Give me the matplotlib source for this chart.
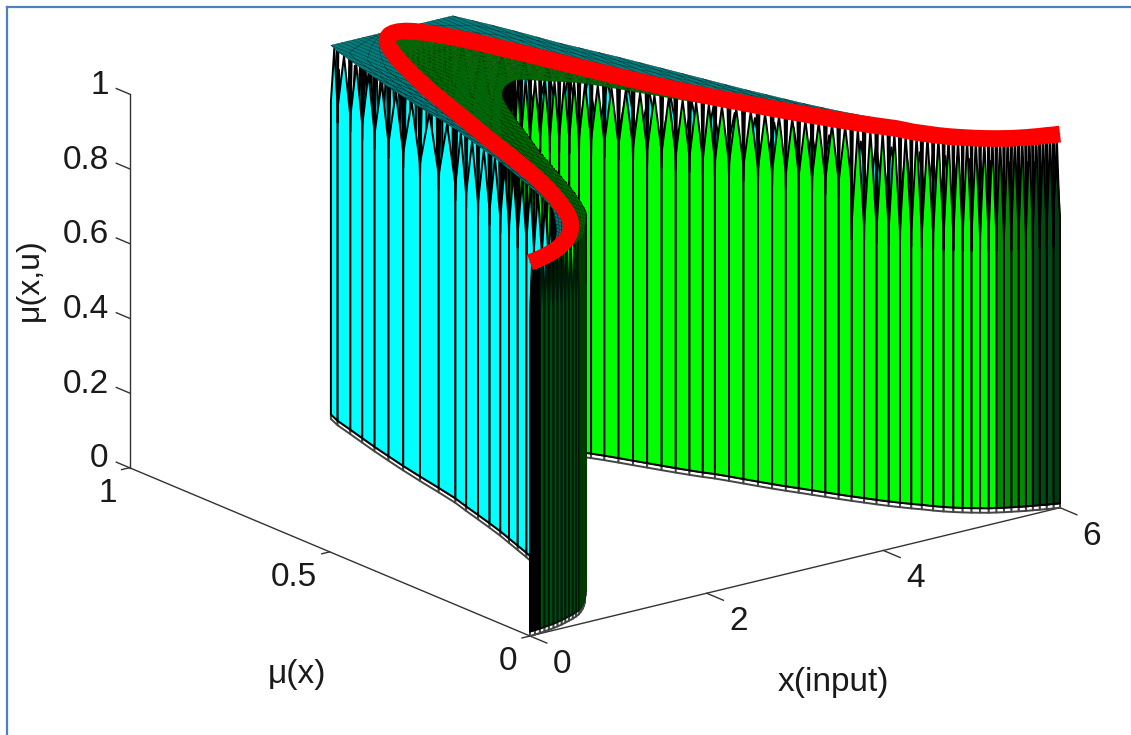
import numpy as np
import matplotlib
matplotlib.use("Agg")
import matplotlib.pyplot as plt
from matplotlib.lines import Line2D
from mpl_toolkits.mplot3d import proj3d
from mpl_toolkits.mplot3d.art3d import Poly3DCollection

plt.rcParams['font.family'] = ['Liberation Sans', 'DejaVu Sans']

# values, one per mesh column
x_in = [0.00, 0.06, 0.12, 0.18, 0.24, 0.30, 0.36, 0.42, 0.48, 0.54,
        0.60, 0.66, 0.72, 0.78, 0.84, 0.90, 0.96, 1.02, 1.08, 1.14,
        1.20, 1.26, 1.32, 1.38, 1.44, 1.50, 1.56, 1.62, 1.68, 1.74,
        1.80, 1.86, 1.92, 1.98, 2.04, 2.10, 2.16, 2.22, 2.28, 2.34,
        2.40, 2.46, 2.52, 2.58, 2.64, 2.70, 2.76, 2.82, 2.88, 2.94,
        3.00, 3.06, 3.12, 3.18, 3.24, 3.30, 3.36, 3.42, 3.48, 3.54,
        3.60, 3.66, 3.72, 3.78, 3.84, 3.90, 3.96, 4.02, 4.08, 4.14,
        4.20, 4.26, 4.32, 4.38, 4.44, 4.50, 4.56, 4.62, 4.68, 4.74,
        4.80, 4.86, 4.92, 4.98, 5.04, 5.10, 5.16, 5.22, 5.28, 5.34,
        5.40, 5.46, 5.52, 5.58, 5.64, 5.70, 5.76, 5.82, 5.88, 5.94, 6.00]
upper = [0.000, 0.003, 0.007, 0.012, 0.017, 0.023, 0.030, 0.038, 0.047, 0.057,
         0.068, 0.080, 0.092, 0.106, 0.120, 0.135, 0.150, 0.165, 0.182, 0.205,
         0.235, 0.268, 0.300, 0.335, 0.370, 0.405, 0.445, 0.487, 0.530, 0.570,
         0.625, 0.685, 0.740, 0.790, 0.838, 0.882, 0.925, 0.970, 1.000, 1.000,
         1.000, 1.000, 1.000, 1.000, 1.000, 1.000, 1.000, 1.000, 1.000, 1.000,
         1.000, 1.000, 1.000, 1.000, 1.000, 1.000, 1.000, 1.000, 1.000, 1.000,
         1.000, 1.000, 0.965, 0.930, 0.890, 0.845, 0.800, 0.765, 0.730, 0.695,
         0.655, 0.615, 0.575, 0.535, 0.495, 0.455, 0.420, 0.385, 0.350, 0.320,
         0.290, 0.265, 0.240, 0.215, 0.190, 0.168, 0.148, 0.130, 0.112, 0.096,
         0.080, 0.066, 0.054, 0.043, 0.034, 0.026, 0.019, 0.013, 0.008, 0.004, 0.000]
middle = [0.000, 0.002, 0.005, 0.008, 0.012, 0.016, 0.021, 0.026, 0.032, 0.039,
          0.046, 0.054, 0.063, 0.073, 0.084, 0.096, 0.110, 0.125, 0.143, 0.163,
          0.185, 0.208, 0.233, 0.260, 0.288, 0.318, 0.350, 0.385, 0.420, 0.458,
          0.495, 0.530, 0.565, 0.600, 0.635, 0.670, 0.705, 0.740, 0.772, 0.802,
          0.830, 0.858, 0.884, 0.908, 0.930, 0.950, 0.966, 0.978, 0.986, 0.990,
          0.990, 0.986, 0.976, 0.960, 0.940, 0.916, 0.888, 0.856, 0.820, 0.785,
          0.748, 0.712, 0.676, 0.640, 0.606, 0.572, 0.540, 0.510, 0.482, 0.455,
          0.430, 0.405, 0.380, 0.355, 0.332, 0.310, 0.288, 0.266, 0.245, 0.225,
          0.206, 0.188, 0.170, 0.142, 0.124, 0.106, 0.092, 0.080, 0.069, 0.059,
          0.050, 0.042, 0.035, 0.028, 0.023, 0.018, 0.014, 0.010, 0.007, 0.003, 0.000]
lower = [0.000, 0.001, 0.002, 0.004, 0.006, 0.008, 0.011, 0.014, 0.018, 0.022,
         0.026, 0.031, 0.037, 0.045, 0.054, 0.064, 0.075, 0.088, 0.100, 0.112,
         0.125, 0.140, 0.158, 0.178, 0.198, 0.220, 0.243, 0.268, 0.293, 0.318,
         0.343, 0.368, 0.393, 0.418, 0.440, 0.462, 0.485, 0.507, 0.530, 0.552,
         0.573, 0.595, 0.616, 0.635, 0.652, 0.665, 0.676, 0.685, 0.692, 0.697,
         0.700, 0.697, 0.688, 0.676, 0.665, 0.655, 0.643, 0.632, 0.615, 0.595,
         0.573, 0.550, 0.528, 0.505, 0.483, 0.462, 0.442, 0.425, 0.403, 0.380,
         0.357, 0.335, 0.314, 0.295, 0.275, 0.255, 0.235, 0.216, 0.198, 0.180,
         0.163, 0.148, 0.133, 0.120, 0.105, 0.092, 0.081, 0.071, 0.062, 0.054,
         0.046, 0.040, 0.034, 0.029, 0.024, 0.019, 0.015, 0.011, 0.007, 0.003, 0.000]

x_ticks = [0, 2, 4, 6]
y_ticks = [0, 0.5, 1]
z_ticks = [0, 0.2, 0.4, 0.6, 0.8, 1]
x_tick_labels = ['0', '2', '4', '6']
y_tick_labels = ['0', '0.5', '1']
z_tick_labels = ['0', '0.2', '0.4', '0.6', '0.8', '1']

TXT = '#1a1a1a'
FS = 24


def cyan_face(x):
    if x > 5.4:
        return '#003c10', 'black'
    return '#00ffff', 'black'


def green_face(x):
    # the ends of the green wall are so dense they read as dark
    if x < 0.12:
        return '#000000', 'black'
    if x < 0.72:
        return '#004a14', '#001a08'
    if x < 1.26:
        return '#008c00', '#003a00'
    if x > 5.7:
        return '#004a14', 'black'
    if x > 5.4:
        return '#008c00', 'black'
    return '#00ff00', 'black'


def wall(xs, ys, face, back_from=99):
    polys, faces, edges = [], [], []
    for i in range(len(xs) - 1):
        x0, x1, y0, y1 = xs[i], xs[i + 1], ys[i], ys[i + 1]
        xm, ym = (x0 + x1) / 2, (y0 + y1) / 2
        fc, ec = face(x0)
        back = x0 >= back_from
        gap = 0.15 if x0 < 4.6 else 0.26
        apex = 0.93 if back else 1
        if back:
            gap = 0.22
        # little white band at the foot
        polys.append([(x0, y0, 0), (x1, y1, 0), (x1, y1, 0.012), (x0, y0, 0.012)])
        faces.append('white')
        edges.append('#444444')
        # coloured strip that ends in a point at the top
        polys.append([(x0, y0, 0.012), (x1, y1, 0.012), (x1, y1, 1 - gap),
                      (xm, ym, apex), (x0, y0, 1 - gap)])
        faces.append(fc)
        edges.append(ec)
        # black spike hanging down from the top
        if not back and x0 >= 1.26:
            d = 0.1
            polys.append([(x0, y0, 1 - gap - 0.04), (x0 + d * (x1 - x0), y0 + d * (y1 - y0), 1),
                          (x0 - d * (x1 - x0), y0 - d * (y1 - y0), 1)])
            faces.append('black')
            edges.append('black')
    return polys, faces, edges


def top_mesh(xs, y_a, y_b, rows):
    polys = []
    for i in range(len(xs) - 1):
        for r in range(rows):
            t0, t1 = r / rows, (r + 1) / rows
            polys.append([(xs[i], y_a[i] + t0 * (y_b[i] - y_a[i]), 1),
                          (xs[i + 1], y_a[i + 1] + t0 * (y_b[i + 1] - y_a[i + 1]), 1),
                          (xs[i + 1], y_a[i + 1] + t1 * (y_b[i + 1] - y_a[i + 1]), 1),
                          (xs[i], y_a[i] + t1 * (y_b[i] - y_a[i]), 1)])
    return polys


fig = plt.figure(figsize=(11.31, 7.35), dpi=100)
side = 1500
ax = fig.add_axes([0, 0, side / 1131, side / 735], projection='3d', proj_type='ortho')
ax.computed_zorder = False
ax.view_init(elev=18.6, azim=-127.2)
ax.set_axis_off()

# walls, sorted back to front by mplot3d
p_up, f_up, e_up = wall(x_in, upper, cyan_face, back_from=2.28)
p_lo, f_lo, e_lo = wall(x_in, lower, green_face)
walls = Poly3DCollection(p_up + p_lo, facecolors=f_up + f_lo, edgecolors=e_up + e_lo,
                         linewidths=1.4, zsort='average', zorder=2)
ax.add_collection3d(walls)

teal = Poly3DCollection(top_mesh(x_in, upper, middle, 5), facecolors='#007c7c',
                        edgecolors='#002c2c', linewidths=0.3, zorder=3)
ax.add_collection3d(teal)
dark = Poly3DCollection(top_mesh(x_in, middle, lower, 8), facecolors='#006800',
                        edgecolors='#003000', linewidths=0.2, zorder=3)
ax.add_collection3d(dark)

ax.plot(x_in, middle, np.ones(len(x_in)), color='#ff0000', lw=12,
        solid_capstyle='butt', zorder=5)

# axes lines and ticks by hand, matlab style with no box
axc = '#333333'
ax.plot([0, 6], [0, 0], [0, 0], color=axc, lw=1, zorder=1)
ax.plot([0, 0], [0, 1], [0, 0], color=axc, lw=1, zorder=1)
ax.plot([0, 0], [1, 1], [0, 1], color=axc, lw=1, zorder=1)
for t in x_ticks:
    ax.plot([t, t], [0, -0.042], [0, 0], color=axc, lw=1, zorder=1)
for t in y_ticks:
    ax.plot([0, -0.09], [t, t], [0, 0], color=axc, lw=1, zorder=1)
for t in z_ticks:
    ax.plot([0, 0], [1, 1.033], [t, t], color=axc, lw=1, zorder=1)

ax.set_xlim(0, 6, view_margin=0)
ax.set_ylim(0, 1, view_margin=0)
ax.set_zlim(0, 1, view_margin=0)
ax.set_box_aspect((665, 662, 394), zoom=1)


def to_px(x, y, z):
    X, Y, _ = proj3d.proj_transform(x, y, z, ax.get_proj())
    return ax.transData.transform((X, Y))


# scale and slide the axes so the origin lands where it is in the picture
fig.canvas.draw()
w = to_px(6, 0, 0)[0] - to_px(0, 0, 0)[0]
ax.set_box_aspect((665, 662, 394), zoom=530 / w)
fig.canvas.draw()
ox, oy = to_px(0, 0, 0)
pos = ax.get_position()
ax.set_position([pos.x0 + (530 - ox) / 1131, pos.y0 + ((735 - 636) - oy) / 735,
                 pos.width, pos.height])
fig.canvas.draw()


def tick_text(x, y, z, label, ha):
    px, py = to_px(x, y, z)
    fig.text(px / 1131, py / 735, label, fontsize=FS, color=TXT, ha=ha, va='center')


for t, lab in zip(x_ticks, x_tick_labels):
    tick_text(t, -0.08, -0.04, lab, 'center')
for t, lab in zip(y_ticks, y_tick_labels):
    tick_text(-0.14, t, -0.06, lab, 'right')
for t, lab in zip(z_ticks, z_tick_labels):
    tick_text(0, 1.052, t, lab, 'right')

fig.text(30 / 1131, 1 - 280 / 735, 'μ(x,u)', rotation=90, fontsize=23, color=TXT,
         ha='center', va='center')
fig.text(297 / 1131, 1 - 675 / 735, 'μ(x)', fontsize=24, color=TXT, ha='center', va='center')
fig.text(833 / 1131, 1 - 682 / 735, 'x(input)', fontsize=24, color=TXT, ha='center', va='center')

# blue frame of the slide, top and left only
frame = '#4f81bd'
fig.add_artist(Line2D([7 / 1131, 7 / 1131], [0, 1 - 7 / 735], color=frame, lw=1.6))
fig.add_artist(Line2D([7 / 1131, 1], [1 - 7 / 735, 1 - 7 / 735], color=frame, lw=1.6))

fig.savefig('out.png', dpi=100)
